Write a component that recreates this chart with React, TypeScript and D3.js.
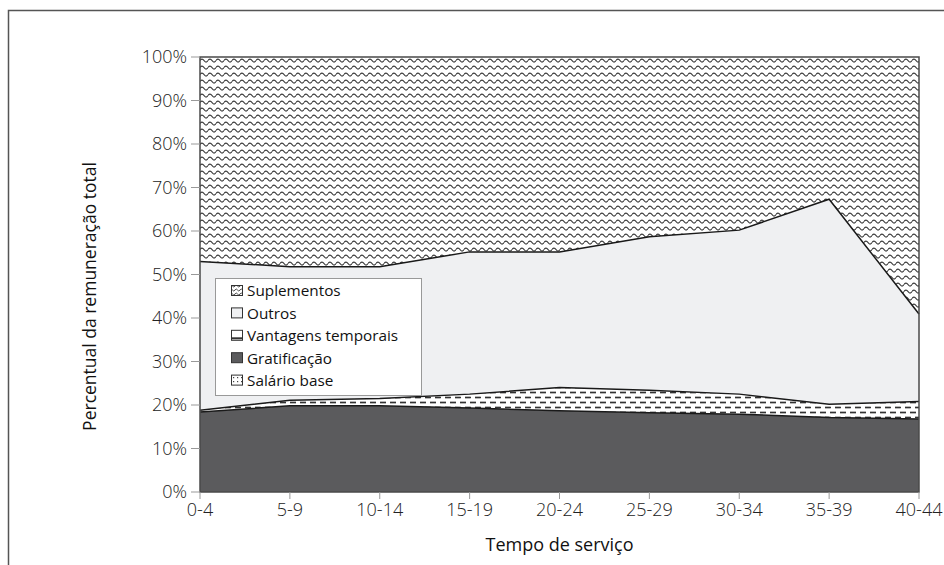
import React from "react";
import * as d3 from "d3";

const categories = ["0-4", "5-9", "10-14", "15-19", "20-24", "25-29", "30-34", "35-39", "40-44"];
const salarioBase = [0, 0, 0, 0, 0, 0, 0, 0, 0];
const gratificacao = [18.4, 19.8, 19.8, 19.3, 18.7, 18.2, 17.9, 17.1, 16.8];
const vantagens = [0.4, 1.3, 1.7, 3.2, 5.3, 5.2, 4.6, 3.1, 4.0];
const outros = [34.2, 30.7, 30.3, 32.7, 31.2, 35.3, 37.7, 47.1, 20.1];
const suplementos = [47.0, 48.2, 48.2, 44.8, 44.8, 41.3, 39.8, 32.7, 59.1];
const yTicks = [0, 10, 20, 30, 40, 50, 60, 70, 80, 90, 100];

const seriesKeys = ["Salário base", "Gratificação", "Vantagens temporais", "Outros", "Suplementos"];
const seriesValues: Record<string, number[]> = {
  "Salário base": salarioBase,
  "Gratificação": gratificacao,
  "Vantagens temporais": vantagens,
  "Outros": outros,
  "Suplementos": suplementos,
};
const fills: Record<string, string> = {
  "Salário base": "url(#pDots)",
  "Gratificação": "#5b5b5d",
  "Vantagens temporais": "url(#pDash)",
  "Outros": "#eff0f2",
  "Suplementos": "url(#pWave)",
};

export default function App() {
  const W = 944, H = 565;
  const L = 200, R = 919, T = 57, B = 492;
  const font = "'Open Sans', 'DejaVu Sans', sans-serif";

  const x = d3.scalePoint<string>().domain(categories).range([L, R]);
  const y = d3.scaleLinear().domain([0, 100]).range([B, T]);

  const rows = categories.map((c, i) => {
    const r: any = { cat: c };
    seriesKeys.forEach((k) => (r[k] = seriesValues[k][i]));
    return r;
  });
  const stacked = d3.stack<any>().keys(seriesKeys)(rows);

  const area = d3
    .area<any>()
    .x((d) => x(d.data.cat) as number)
    .y0((d) => y(d[0]))
    .y1((d) => y(d[1]));
  const line = d3
    .line<any>()
    .x((d) => x(d.data.cat) as number)
    .y((d) => y(d[1]));

  const legendItems = ["Suplementos", "Outros", "Vantagens temporais", "Gratificação", "Salário base"];

  return (
    <svg
      width={W}
      height={H}
      style={{ position: "absolute", left: 0, top: 0, background: "#fff" }}
    >
      <defs>
        <pattern id="pWave" width={8} height={7} patternUnits="userSpaceOnUse" x={L} y={T}>
          <rect width={8} height={7} fill="#fff" />
          <path d="M0,3.5 Q2,0.5 4,3.5 T8,3.5" fill="none" stroke="#3a3a3a" strokeWidth={1.25} />
        </pattern>
        <pattern id="pDash" width={10} height={10} patternUnits="userSpaceOnUse" x={L} y={0}>
          <rect width={10} height={10} fill="#fff" />
          <line x1={0} y1={2.5} x2={6} y2={2.5} stroke="#333" strokeWidth={1.7} />
          <line x1={5} y1={7.5} x2={10} y2={7.5} stroke="#333" strokeWidth={1.7} />
          <line x1={0} y1={7.5} x2={1} y2={7.5} stroke="#333" strokeWidth={1.7} />
        </pattern>
        <pattern id="pDots" width={4} height={4} patternUnits="userSpaceOnUse">
          <rect width={4} height={4} fill="#fff" />
          <rect x={1} y={1} width={1.2} height={1.2} fill="#444" />
        </pattern>
        <pattern id="pWaveSmall" width={5} height={4} patternUnits="userSpaceOnUse">
          <rect width={5} height={4} fill="#fff" />
          <path d="M0,2 Q1.25,0 2.5,2 T5,2" fill="none" stroke="#333" strokeWidth={0.9} />
        </pattern>
      </defs>

      {/* outer frame */}
      <path d={`M8.5,${H} V10.5 H${W}`} fill="none" stroke="#555" strokeWidth={1.5} />

      {/* areas */}
      {stacked.map((s) => (
        <path key={s.key} d={area(s) || ""} fill={fills[s.key]} />
      ))}
      {stacked
        .filter((s) => s.key !== "Salário base" && s.key !== "Suplementos")
        .map((s) => (
          <path key={"l" + s.key} d={line(s) || ""} fill="none" stroke="#1a1a1a" strokeWidth={1.5} />
        ))}

      {/* plot frame */}
      <rect x={L} y={T} width={R - L} height={B - T} fill="none" stroke="#4a4a4a" strokeWidth={1.5} />

      {/* y axis ticks */}
      {yTicks.map((t) => (
        <g key={"y" + t}>
          <line x1={L - 9} x2={L} y1={y(t)} y2={y(t)} stroke="#999" strokeWidth={1} />
          <text
            x={L - 13}
            y={y(t)}
            dy="0.35em"
            textAnchor="end"
            fontFamily={font}
            fontSize={18}
            fontWeight={300}
            fill="#222"
          >
            {t}%
          </text>
        </g>
      ))}

      {/* x axis ticks */}
      {categories.map((c) => (
        <g key={"x" + c}>
          <line x1={x(c)} x2={x(c)} y1={B} y2={B + 7} stroke="#999" strokeWidth={1} />
          <text
            x={x(c)}
            y={516}
            textAnchor="middle"
            fontFamily={font}
            fontSize={18}
            fontWeight={300}
            fill="#222"
          >
            {c}
          </text>
        </g>
      ))}

      {/* axis titles */}
      <text
        x={(L + R) / 2}
        y={551}
        textAnchor="middle"
        fontFamily={font}
        fontSize={18}
        fill="#111"
      >
        Tempo de serviço
      </text>
      <text
        transform={`translate(96,${(T + B) / 2 + 22}) rotate(-90)`}
        textAnchor="middle"
        fontFamily={font}
        fontSize={17.5}
        fill="#111"
      >
        Percentual da remuneração total
      </text>

      {/* legend */}
      <rect x={215.5} y={278.5} width={206} height={117} fill="#fff" stroke="#999" strokeWidth={1} />
      {legendItems.map((k, i) => {
        const cy = 291 + i * 22.4;
        const iconFill =
          k === "Suplementos"
            ? "url(#pWaveSmall)"
            : k === "Vantagens temporais"
            ? "#fff"
            : k === "Salário base"
            ? "url(#pDots)"
            : fills[k];
        return (
          <g key={"lg" + k}>
            <rect x={231.5} y={cy - 5.5} width={11} height={10} fill={iconFill} stroke="#333" strokeWidth={1} />
            {k === "Vantagens temporais" && (
              <line x1={232} x2={242} y1={cy + 2.5} y2={cy + 2.5} stroke="#333" strokeWidth={2} />
            )}
            <text x={247} y={cy} dy="0.35em" fontFamily={font} fontSize={15.3} fill="#111">
              {k}
            </text>
          </g>
        );
      })}
    </svg>
  );
}
